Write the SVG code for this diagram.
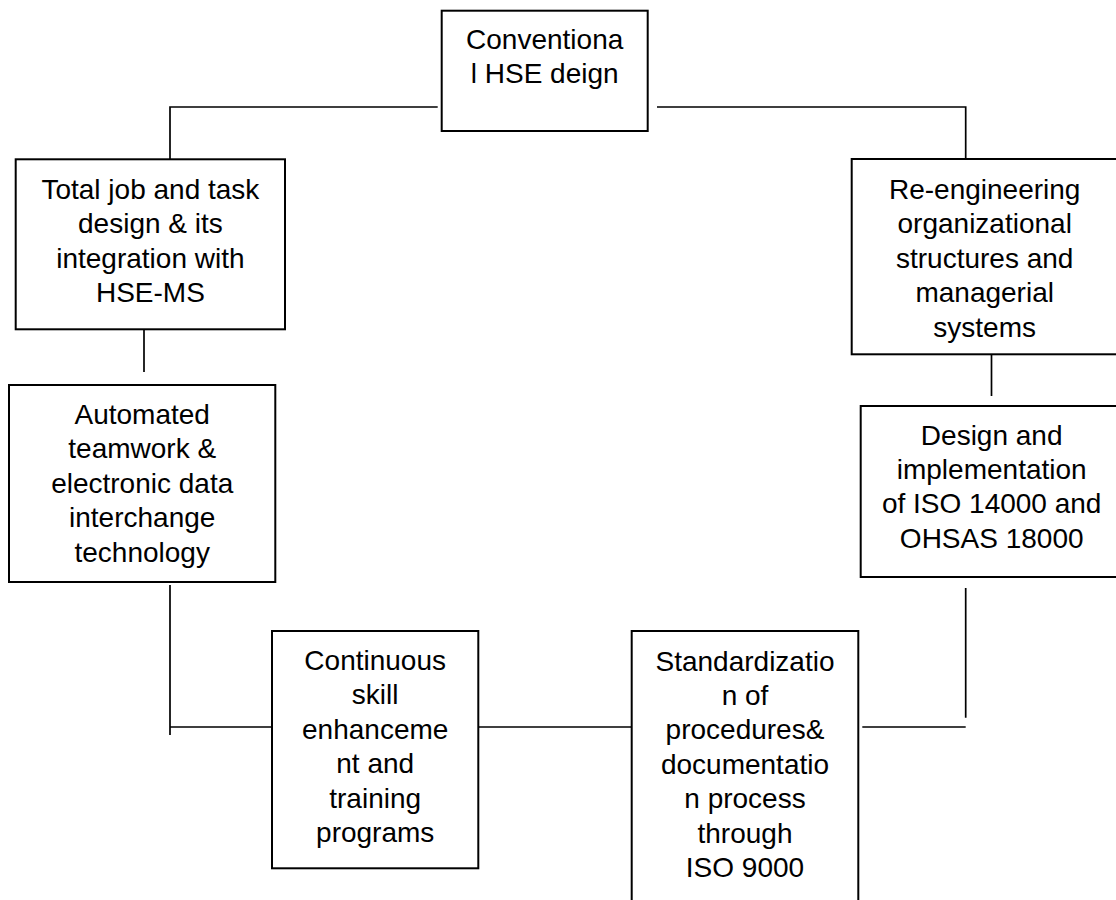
<svg xmlns="http://www.w3.org/2000/svg" width="1116" height="900" viewBox="0 0 1116 900">
<style>
.box{fill:#fff;stroke:#000;stroke-width:2}
.ln{fill:none;stroke:#000;stroke-width:1.7}
text{font-family:"Liberation Sans",Arial,sans-serif;font-size:28px;fill:#000;text-anchor:middle}
</style>
<rect width="1116" height="900" fill="#fff"/>
<g id="connectors">
<path class="ln" d="M437.7 107 H170 V159.3"/>
<path class="ln" d="M657 107 H965.7 V159"/>
<path class="ln" d="M144 329.3 V372"/>
<path class="ln" d="M991.5 354.3 V396"/>
<path class="ln" d="M170 585 V735 M170 727 H272"/>
<path class="ln" d="M478 727 H631.7"/>
<path class="ln" d="M862.3 727 H965.7 M965.7 588 V717.7"/>
</g>
<g id="n-conventional">
<rect class="box" x="441.7" y="10.7" width="206" height="120.3"/>
<text x="544.7" y="48.5">Conventiona</text>
<text x="544.7" y="82.8">l HSE deign</text>
</g>
<g id="n-total">
<rect class="box" x="15.7" y="159.3" width="269.3" height="170"/>
<text x="150.4" y="199">Total job and task</text>
<text x="150.4" y="233.4">design &amp; its</text>
<text x="150.4" y="267.8">integration with</text>
<text x="150.4" y="302.2">HSE-MS</text>
</g>
<g id="n-automated">
<rect class="box" x="9" y="385" width="266.3" height="197"/>
<text x="142.2" y="424">Automated</text>
<text x="142.2" y="458.4">teamwork &amp;</text>
<text x="142.2" y="492.8">electronic data</text>
<text x="142.2" y="527.2">interchange</text>
<text x="142.2" y="561.6">technology</text>
</g>
<g id="n-reengineering">
<rect class="box" x="851.7" y="159" width="270" height="195.3"/>
<text x="984.7" y="199">Re-engineering</text>
<text x="984.7" y="233.4">organizational</text>
<text x="984.7" y="267.8">structures and</text>
<text x="984.7" y="302.2">managerial</text>
<text x="984.7" y="336.6">systems</text>
</g>
<g id="n-design">
<rect class="box" x="860.7" y="406" width="265" height="171"/>
<text x="991.7" y="444.5">Design and</text>
<text x="991.7" y="478.9">implementation</text>
<text x="991.7" y="513.3">of ISO 14000 and</text>
<text x="991.7" y="547.7">OHSAS 18000</text>
</g>
<g id="n-continuous">
<rect class="box" x="272" y="631" width="206.3" height="237.3"/>
<text x="375.2" y="670">Continuous</text>
<text x="375.2" y="704.4">skill</text>
<text x="375.2" y="738.8">enhanceme</text>
<text x="375.2" y="773.2">nt and</text>
<text x="375.2" y="807.6">training</text>
<text x="375.2" y="842">programs</text>
</g>
<g id="n-standardization">
<rect class="box" x="631.7" y="631" width="226.6" height="300"/>
<text x="745" y="670.5">Standardizatio</text>
<text x="745" y="704.9">n of</text>
<text x="745" y="739.3">procedures&amp;</text>
<text x="745" y="773.7">documentatio</text>
<text x="745" y="808.1">n process</text>
<text x="745" y="842.5">through</text>
<text x="745" y="876.9">ISO 9000</text>
</g>
</svg>
